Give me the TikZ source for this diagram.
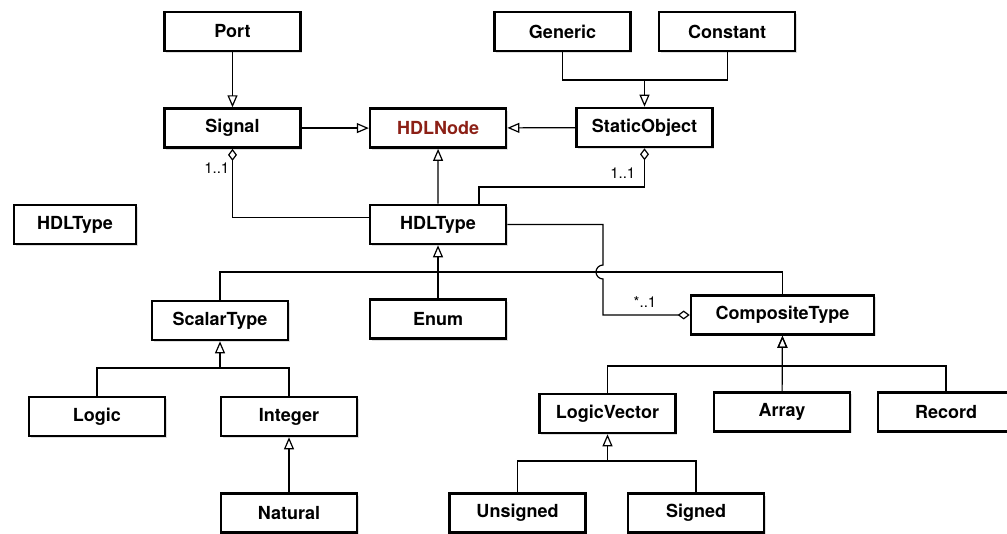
\documentclass[tikz,border=0pt]{standalone}
\usepackage{fontspec}
\setmainfont{TeX Gyre Heros}
\usetikzlibrary{positioning, calc, arrows.meta, shadows}
\definecolor{nodered}{RGB}{140,32,22}
\tikzset{
cls/.style={draw, line width=2.6pt, fill=white, inner sep=0pt,
	minimum width=136pt, minimum height=39pt,
	font=\fontsize{18}{20}\selectfont\bfseries,
	drop shadow={shadow xshift=1.5pt, shadow yshift=-2pt, opacity=0.25}
},
assoc/.style={line width=1.2pt},
gen/.style={assoc, -{Triangle[open, length=12pt, width=10pt]}},
aggr/.style={assoc, -{Diamond[open, length=12pt, width=9pt]}},
mult/.style={font=\fontsize{15}{17}\selectfont, inner sep=1pt},
}

\begin{document}
\begin{tikzpicture}[x=1pt, y=1pt, node distance=55pt]
\useasboundingbox (0,0) rectangle (1007,-534);
%Place the nodes
\node[cls] (port) at (232.5,-31.5) {Port};
\node[cls, below=of port] (signal) {Signal};
\node[cls, right=67pt of signal] (hdlnode) {\textcolor{nodered}{HDLNode}};
\node[cls] (generic) at (562.5,-31.5) {Generic};
\node[cls, right=26pt of generic] (constant) {Constant};
\node[cls] (staticobj) at (644.5,-127.5) {StaticObject};
\node[cls] (hdltype) at (438,-224.5) {HDLType};
\node[cls, minimum width=122pt] (hdltypeL) at (75,-224.5) {HDLType};
\node[cls, below=53pt of hdltype] (enum) {Enum};
\node[cls] (scalar) at (220,-320.5) {ScalarType};
\node[cls, minimum width=183pt] (composite) at (782.5,-315) {CompositeType};
\node[cls] (logic) at (97,-416.5) {Logic};
\node[cls] (integer) at (289,-416.5) {Integer};
\node[cls, below=of integer] (natural) {Natural};
\node[cls] (logicvector) at (607.5,-413.5) {LogicVector};
\node[cls] (array) at (782,-412) {Array};
\node[cls] (record) at (946,-412) {Record};
\node[cls] (unsigned) at (517.5,-513) {Unsigned};
\node[cls] (signed) at (696,-513) {Signed};

%Bus corners
\coordinate (sobus) at (644.5,-80);
\coordinate (hbus) at (438,-272);
\coordinate (sbus) at (220,-368);
\coordinate (cbus) at (782.5,-366);
\coordinate (lbus) at (607.5,-461);
\coordinate (hop) at (603,-272);
\coordinate (sokink) at (479,-187);

%Generalizations
\foreach \a/\b in {port/signal, signal/hdlnode, staticobj/hdlnode, hdltype/hdlnode, enum/hdltype, natural/integer, array/composite}
	\draw[gen] (\a) -- (\b);

\draw[assoc] (generic) |- (sobus) -| (constant);
\draw[gen] (sobus) -- (staticobj);
\draw[assoc] (scalar) |- (hbus) -| (composite);
\draw[assoc] (logic) |- (sbus) -| (integer);
\draw[gen] (sbus) -- (scalar);
\draw[assoc] (logicvector) |- (cbus) -| (record);
\draw[gen] (cbus) -- (composite);
\draw[assoc] (unsigned) |- (lbus) -| (signed);
\draw[gen] (lbus) -- (logicvector);

%Aggregations
\draw[aggr] ([yshift=7pt]hdltype.west) -| (signal.south);
\draw[aggr] (hdltype.north -| sokink) -- (sokink) -| (staticobj.south);
\draw[aggr] (hdltype.east) -| ([yshift=7pt]hop) arc[start angle=90, end angle=270, radius=7pt] |- (composite.west);

\node[mult, anchor=east] (m1) at ($(signal.south)+(-2,-19)$) {1..1};
\node[mult, anchor=east] (m2) at ($(staticobj.south)+(-8,-25)$) {1..1};
\node[mult] (m3) at (645,-302) {*..1};

\end{tikzpicture}
\end{document}
